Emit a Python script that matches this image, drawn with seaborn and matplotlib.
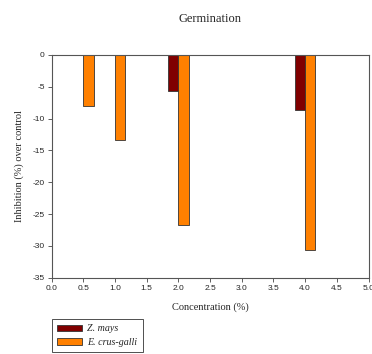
import matplotlib
matplotlib.use('Agg')
import matplotlib.pyplot as plt
import pandas as pd
import seaborn as sns

# data
concentration = [0.5, 1.0, 2.0, 4.0]
z_mays = [0.0, 0.0, -5.75, -8.7]
e_crus_galli = [-8.1, -13.3, -26.7, -30.7]

species = ['Z. mays', 'E. crus-galli']
colors = ['#800000', '#FF8000']

df = pd.DataFrame({
    'conc': concentration * 2,
    'value': z_mays + e_crus_galli,
    'species': [species[0]] * len(concentration) + [species[1]] * len(concentration),
})

sns.set_style('white')
plt.rcParams['font.family'] = ['Liberation Sans', 'DejaVu Sans']
plt.rcParams['axes.unicode_minus'] = False

fig = plt.figure(figsize=(3.72, 3.54), dpi=100)
ax = fig.add_axes([0.139, 0.2155, 0.8516, 0.6295])

sns.barplot(data=df, x='conc', y='value', hue='species', palette=colors,
            native_scale=True, dodge=True, width=0.64, errorbar=None,
            saturation=1, edgecolor='#333333', linewidth=0.6, legend=True, ax=ax)

ax.set_xlim(0, 5)
ax.set_ylim(-35, 0)
ax.set_xticks([i * 0.5 for i in range(11)])
ax.set_xticklabels(['%.1f' % (i * 0.5) for i in range(11)])
ax.set_yticks(range(-35, 1, 5))
ax.tick_params(axis='both', direction='out', length=3, width=0.6,
               color='#444444', labelsize=6, pad=2, bottom=True, left=True)

for s in ax.spines.values():
    s.set_color('#555555')
    s.set_linewidth(0.8)

ax.set_xlabel('Concentration (%)', family='Liberation Serif', fontsize=7.5, labelpad=8)
ax.set_ylabel('Inhibition (%) over control', family='Liberation Serif', fontsize=7.5, labelpad=6)
ax.set_title('Germination', family='Liberation Serif', fontsize=9, pad=24)

handles, labels = ax.get_legend_handles_labels()
ax.get_legend().remove()
leg = fig.legend(handles, labels, loc='upper left', bbox_to_anchor=(0.139, 0.099),
                 borderaxespad=0,
                 prop={'family': 'Liberation Serif', 'style': 'italic', 'size': 7.2},
                 fancybox=False, edgecolor='#333333', framealpha=1,
                 handlelength=2.5, handleheight=0.6, labelspacing=0.45,
                 borderpad=0.55, handletextpad=0.5)
leg.get_frame().set_linewidth(0.6)

fig.savefig('out.png', dpi=100)
